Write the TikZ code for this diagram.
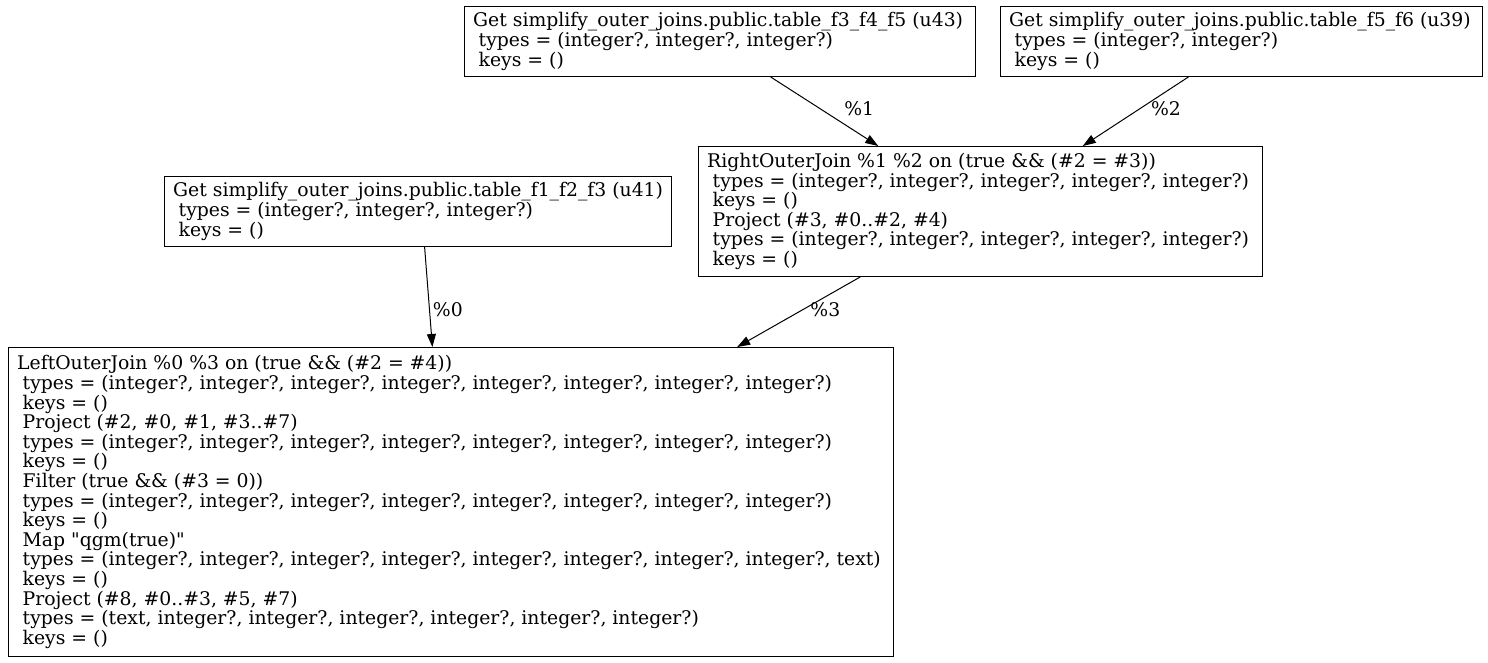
\documentclass[tikz,border=0pt]{standalone}
\usepackage{fontspec}
\setmainfont{DejaVu Serif}
\usetikzlibrary{arrows.meta,calc}
\newcommand{\lsp}{\hspace*{5.5pt}}
\begin{document}
\begin{tikzpicture}[x=1pt,y=-1pt,
  txt/.style={font=\fontsize{18.8pt}{19.6pt}\selectfont},
  opbox/.style={draw, line width=1pt, inner sep=0pt, anchor=north west},
  optext/.style={txt, align=left, inner sep=0pt, anchor=west, xshift=9pt},
  edge/.style={line width=1pt, -{Triangle[length=13pt,width=9pt]}},
  elabel/.style={txt, inner sep=0pt, anchor=west}]
\useasboundingbox (0,0) rectangle (1488,663);
\node[opbox, minimum width=511pt, minimum height=70pt] (A) at (464,6) {};
\node[optext] (At) at (A.west)
  {Get simplify\_outer\_joins.public.table\_f3\_f4\_f5 (u43)\\
   \lsp types = (integer?, integer?, integer?)\\
   \lsp keys = ()};
\node[opbox, minimum width=482pt, minimum height=70pt] (B) at (1000,6) {};
\node[optext] (Bt) at (B.west)
  {Get simplify\_outer\_joins.public.table\_f5\_f6 (u39)\\
   \lsp types = (integer?, integer?)\\
   \lsp keys = ()};
\node[opbox, minimum width=564pt, minimum height=130pt] (C) at (698,146) {};
\node[optext] (Ct) at (C.west)
  {RightOuterJoin \%1 \%2 on (true \&\& (\#2 = \#3))\\
   \lsp types = (integer?, integer?, integer?, integer?, integer?)\\
   \lsp keys = ()\\
   \lsp Project (\#3, \#0..\#2, \#4)\\
   \lsp types = (integer?, integer?, integer?, integer?, integer?)\\
   \lsp keys = ()};
\node[opbox, minimum width=507pt, minimum height=70pt] (D) at (164,176) {};
\node[optext] (Dt) at (D.west)
  {Get simplify\_outer\_joins.public.table\_f1\_f2\_f3 (u41)\\
   \lsp types = (integer?, integer?, integer?)\\
   \lsp keys = ()};
\node[opbox, minimum width=885pt, minimum height=309pt] (E) at (8,347) {};
\node[optext] (Et) at (E.west)
  {LeftOuterJoin \%0 \%3 on (true \&\& (\#2 = \#4))\\
   \lsp types = (integer?, integer?, integer?, integer?, integer?, integer?, integer?, integer?)\\
   \lsp keys = ()\\
   \lsp Project (\#2, \#0, \#1, \#3..\#7)\\
   \lsp types = (integer?, integer?, integer?, integer?, integer?, integer?, integer?, integer?)\\
   \lsp keys = ()\\
   \lsp Filter (true \&\& (\#3 = 0))\\
   \lsp types = (integer?, integer?, integer?, integer?, integer?, integer?, integer?, integer?)\\
   \lsp keys = ()\\
   \lsp Map \textquotedbl qgm(true)\textquotedbl\\
   \lsp types = (integer?, integer?, integer?, integer?, integer?, integer?, integer?, integer?, text)\\
   \lsp keys = ()\\
   \lsp Project (\#8, \#0..\#3, \#5, \#7)\\
   \lsp types = (text, integer?, integer?, integer?, integer?, integer?, integer?)\\
   \lsp keys = ()};
\draw[edge] ($(A.south west)!0.599!(A.south east)$) -- node[elabel, pos=0.457, xshift=24pt] (l1) {\%1} ($(C.north west)!0.319!(C.north east)$);
\draw[edge] ($(B.south west)!0.39!(B.south east)$) -- node[elabel, pos=0.457, xshift=10.5pt] (l2) {\%2} ($(C.north west)!0.681!(C.north east)$);
\draw[edge] ($(D.south west)!0.513!(D.south east)$) -- node[elabel, pos=0.624, xshift=3pt] (l0) {\%0} ($(E.north west)!0.479!(E.north east)$);
\draw[edge] ($(C.south west)!0.287!(C.south east)$) -- node[elabel, pos=0.465, xshift=7pt] (l3) {\%3} ($(E.north west)!0.823!(E.north east)$);
\end{tikzpicture}
\end{document}
